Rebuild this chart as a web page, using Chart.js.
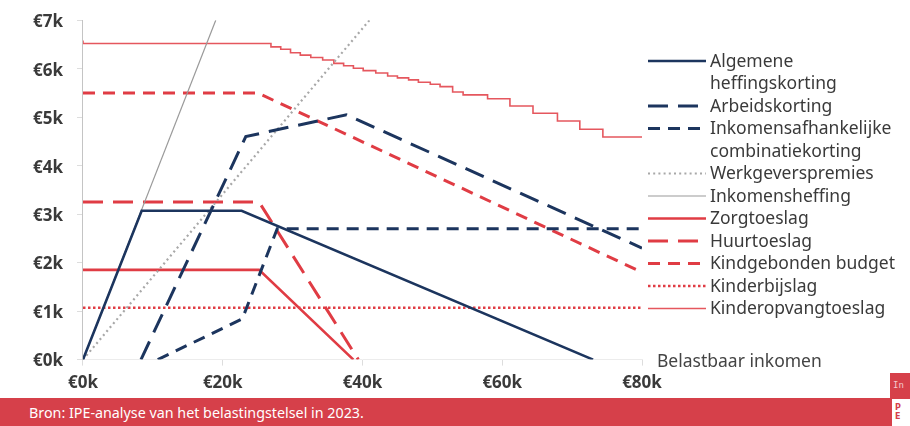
<!DOCTYPE html>
<html lang="nl">
<head>
<meta charset="utf-8">
<title>Belastbaar inkomen</title>
<script src="https://cdn.jsdelivr.net/npm/chart.js@4"></script>
<style>
  html, body { margin: 0; padding: 0; background: #fff; width: 910px; height: 426px; overflow: hidden; font-family: "Noto Sans", sans-serif; }
  #wrap { position: absolute; left: 0; top: -4px; width: 910px; height: 408px; }
  #footer { position: absolute; left: 0; top: 398px; width: 910px; height: 28px; background: #d6404a; color: #fff; font-size: 14.3px; }
  #footer .src { position: absolute; left: 29px; top: 5px; }
  .logo-a { position: absolute; left: 890px; top: 373px; width: 20px; height: 25px; background: #d6404a; color: #f3c9cc; font: 9px "DejaVu Sans Mono", monospace; line-height: 25px; padding-left: 3px; box-sizing: border-box; }
  .logo-b { position: absolute; left: 892px; top: 399px; width: 18px; height: 27px; background: #fff; color: #d6404a; font: bold 8px "DejaVu Sans", sans-serif; line-height: 9px; padding: 4px 0 0 3px; box-sizing: border-box; }
</style>
</head>
<body>
<div id="wrap"><canvas id="chart"></canvas></div>
<div id="footer"><span class="src">Bron: IPE-analyse van het belastingstelsel in 2023.</span></div>
<div class="logo-a">In</div>
<div class="logo-b">P<br>E</div>
<script>
// values in thousands of euros
const xTicks = [0, 20, 40, 60, 80];
const yTicks = [0, 1, 2, 3, 4, 5, 6, 7];
const xTitle = 'Belastbaar inkomen';

const seriesNames = [
    'Algemene heffingskorting', 'Arbeidskorting', 'Inkomensafhankelijke combinatiekorting',
    'Werkgeverspremies', 'Inkomensheffing', 'Zorgtoeslag', 'Huurtoeslag',
    'Kindgebonden budget', 'Kinderbijslag', 'Kinderopvangtoeslag'
];
const legendLines = [
    ['Algemene', 'heffingskorting'], ['Arbeidskorting'], ['Inkomensafhankelijke', 'combinatiekorting'],
    ['Werkgeverspremies'], ['Inkomensheffing'], ['Zorgtoeslag'], ['Huurtoeslag'],
    ['Kindgebonden budget'], ['Kinderbijslag'], ['Kinderopvangtoeslag']
];

const ahkX = [0, 8.4, 22.7, 73.0];
const ahkY = [0, 3.07, 3.07, 0];
const akX = [8.3, 23.3, 37.7, 80];
const akY = [0, 4.6, 5.05, 2.3];
const iackX = [10.7, 22.8, 27.8, 80];
const iackY = [0, 0.84, 2.7, 2.7];
const wgpX = [0, 41];
const wgpY = [0, 7];
const ihX = [0, 19];
const ihY = [0, 7];
const ztX = [0, 25.2, 38.7];
const ztY = [1.85, 1.85, 0];
const htX = [0, 25.2, 39.4];
const htY = [3.25, 3.25, 0];
const kgbX = [0, 25, 80];
const kgbY = [5.5, 5.5, 1.8];
const kbsX = [0, 80];
const kbsY = [1.07, 1.07];
const kotX = [0, 26.9, 28.3, 29.7, 31.1, 32.6, 34.3, 35.9, 37.3, 38.7, 40.1, 41.9, 43.6, 45.0,
    46.6, 48.0, 49.7, 51.1, 52.9, 54.4, 57.9, 61.1, 64.4, 67.9, 71.1, 74.4, 77.9, 80];
const kotY = [6.58, 6.52, 6.45, 6.40, 6.33, 6.28, 6.23, 6.18, 6.11, 6.06, 6.01, 5.96, 5.91, 5.85,
    5.81, 5.77, 5.72, 5.68, 5.63, 5.52, 5.46, 5.38, 5.23, 5.08, 4.92, 4.75, 4.59, 4.59];

const navy = '#1c355e';
const red = '#e03c44';

function pts(xs, ys) {
    return xs.map((x, i) => ({ x: x, y: ys[i] }));
}

const datasets = [
    { data: pts(ahkX, ahkY), borderColor: navy, borderWidth: 2.6, borderDash: [] },
    { data: pts(akX, akY), borderColor: navy, borderWidth: 3, borderDash: [20, 10] },
    { data: pts(iackX, iackY), borderColor: navy, borderWidth: 3, borderDash: [12, 8] },
    { data: pts(wgpX, wgpY), borderColor: '#a8a8a8', borderWidth: 2.2, borderDash: [2, 3.2] },
    { data: pts(ihX, ihY), borderColor: '#9a9a9a', borderWidth: 1.2, borderDash: [] },
    { data: pts(ztX, ztY), borderColor: red, borderWidth: 2.6, borderDash: [] },
    { data: pts(htX, htY), borderColor: red, borderWidth: 3, borderDash: [20, 10] },
    { data: pts(kgbX, kgbY), borderColor: red, borderWidth: 3, borderDash: [12, 8] },
    { data: pts(kbsX, kbsY), borderColor: red, borderWidth: 2.5, borderDash: [2.5, 2.5] },
    { data: pts(kotX, kotY), borderColor: '#e5575e', borderWidth: 1.6, borderDash: [], stepped: 'after' }
].map((d, i) => Object.assign({
    label: seriesNames[i],
    showLine: true,
    pointRadius: 0,
    fill: false,
    tension: 0
}, d));

// legend on the right, drawn by hand so the long names can wrap
const legendPlugin = {
    id: 'sideLegend',
    afterDraw(chart) {
        const ctx = chart.ctx;
        const area = chart.chartArea;
        const top = chart.canvas.getBoundingClientRect().top;
        ctx.save();
        ctx.font = '17.5px "Noto Sans"';
        ctx.fillStyle = '#444';
        ctx.textBaseline = 'middle';
        ctx.textAlign = 'left';
        ctx.fillText(xTitle, area.right + 15, area.bottom + 2);

        let y = 61 - top;
        const lh = 22.5;
        ctx.fillStyle = '#3a3a3a';
        chart.data.datasets.forEach((ds, i) => {
            ctx.save();
            ctx.strokeStyle = ds.borderColor;
            ctx.lineWidth = ds.borderWidth;
            ctx.setLineDash(ds.borderDash || []);
            ctx.beginPath();
            ctx.moveTo(648, y);
            ctx.lineTo(706, y);
            ctx.stroke();
            ctx.restore();
            legendLines[i].forEach(line => {
                ctx.fillText(line, 710, y + 1);
                y += lh;
            });
        });
        ctx.restore();
    }
};

new Chart(document.getElementById('chart'), {
    type: 'scatter',
    data: { datasets },
    options: {
        responsive: true,
        maintainAspectRatio: false,
        animation: false,
        devicePixelRatio: 1,
        layout: { padding: { left: 19, top: 5, right: 268, bottom: 4 } },
        plugins: { legend: { display: false }, tooltip: { enabled: false } },
        scales: {
            x: {
                type: 'linear',
                min: 0,
                max: 80,
                afterBuildTicks: axis => { axis.ticks = xTicks.map(v => ({ value: v })); },
                ticks: {
                    callback: v => '€' + v + 'k',
                    color: '#3a3a3a',
                    font: { family: 'Noto Sans', size: 17, weight: 'bold' },
                    padding: 7,
                    maxRotation: 0
                },
                grid: { drawOnChartArea: false, drawTicks: true, tickLength: 6, color: '#dddddd' },
                border: { display: true, color: '#ececec', width: 1 }
            },
            y: {
                type: 'linear',
                min: 0,
                max: 7,
                afterBuildTicks: axis => { axis.ticks = yTicks.map(v => ({ value: v })); },
                ticks: {
                    callback: v => '€' + v + 'k',
                    color: '#3a3a3a',
                    font: { family: 'Noto Sans', size: 17, weight: 'bold' },
                    padding: 14,
                    labelOffset: 2
                },
                grid: { drawOnChartArea: false, drawTicks: true, tickLength: 6, color: '#dddddd' },
                border: { display: true, color: '#c4c4c4', width: 1 }
            }
        }
    },
    plugins: [legendPlugin]
});
</script>
</body>
</html>
